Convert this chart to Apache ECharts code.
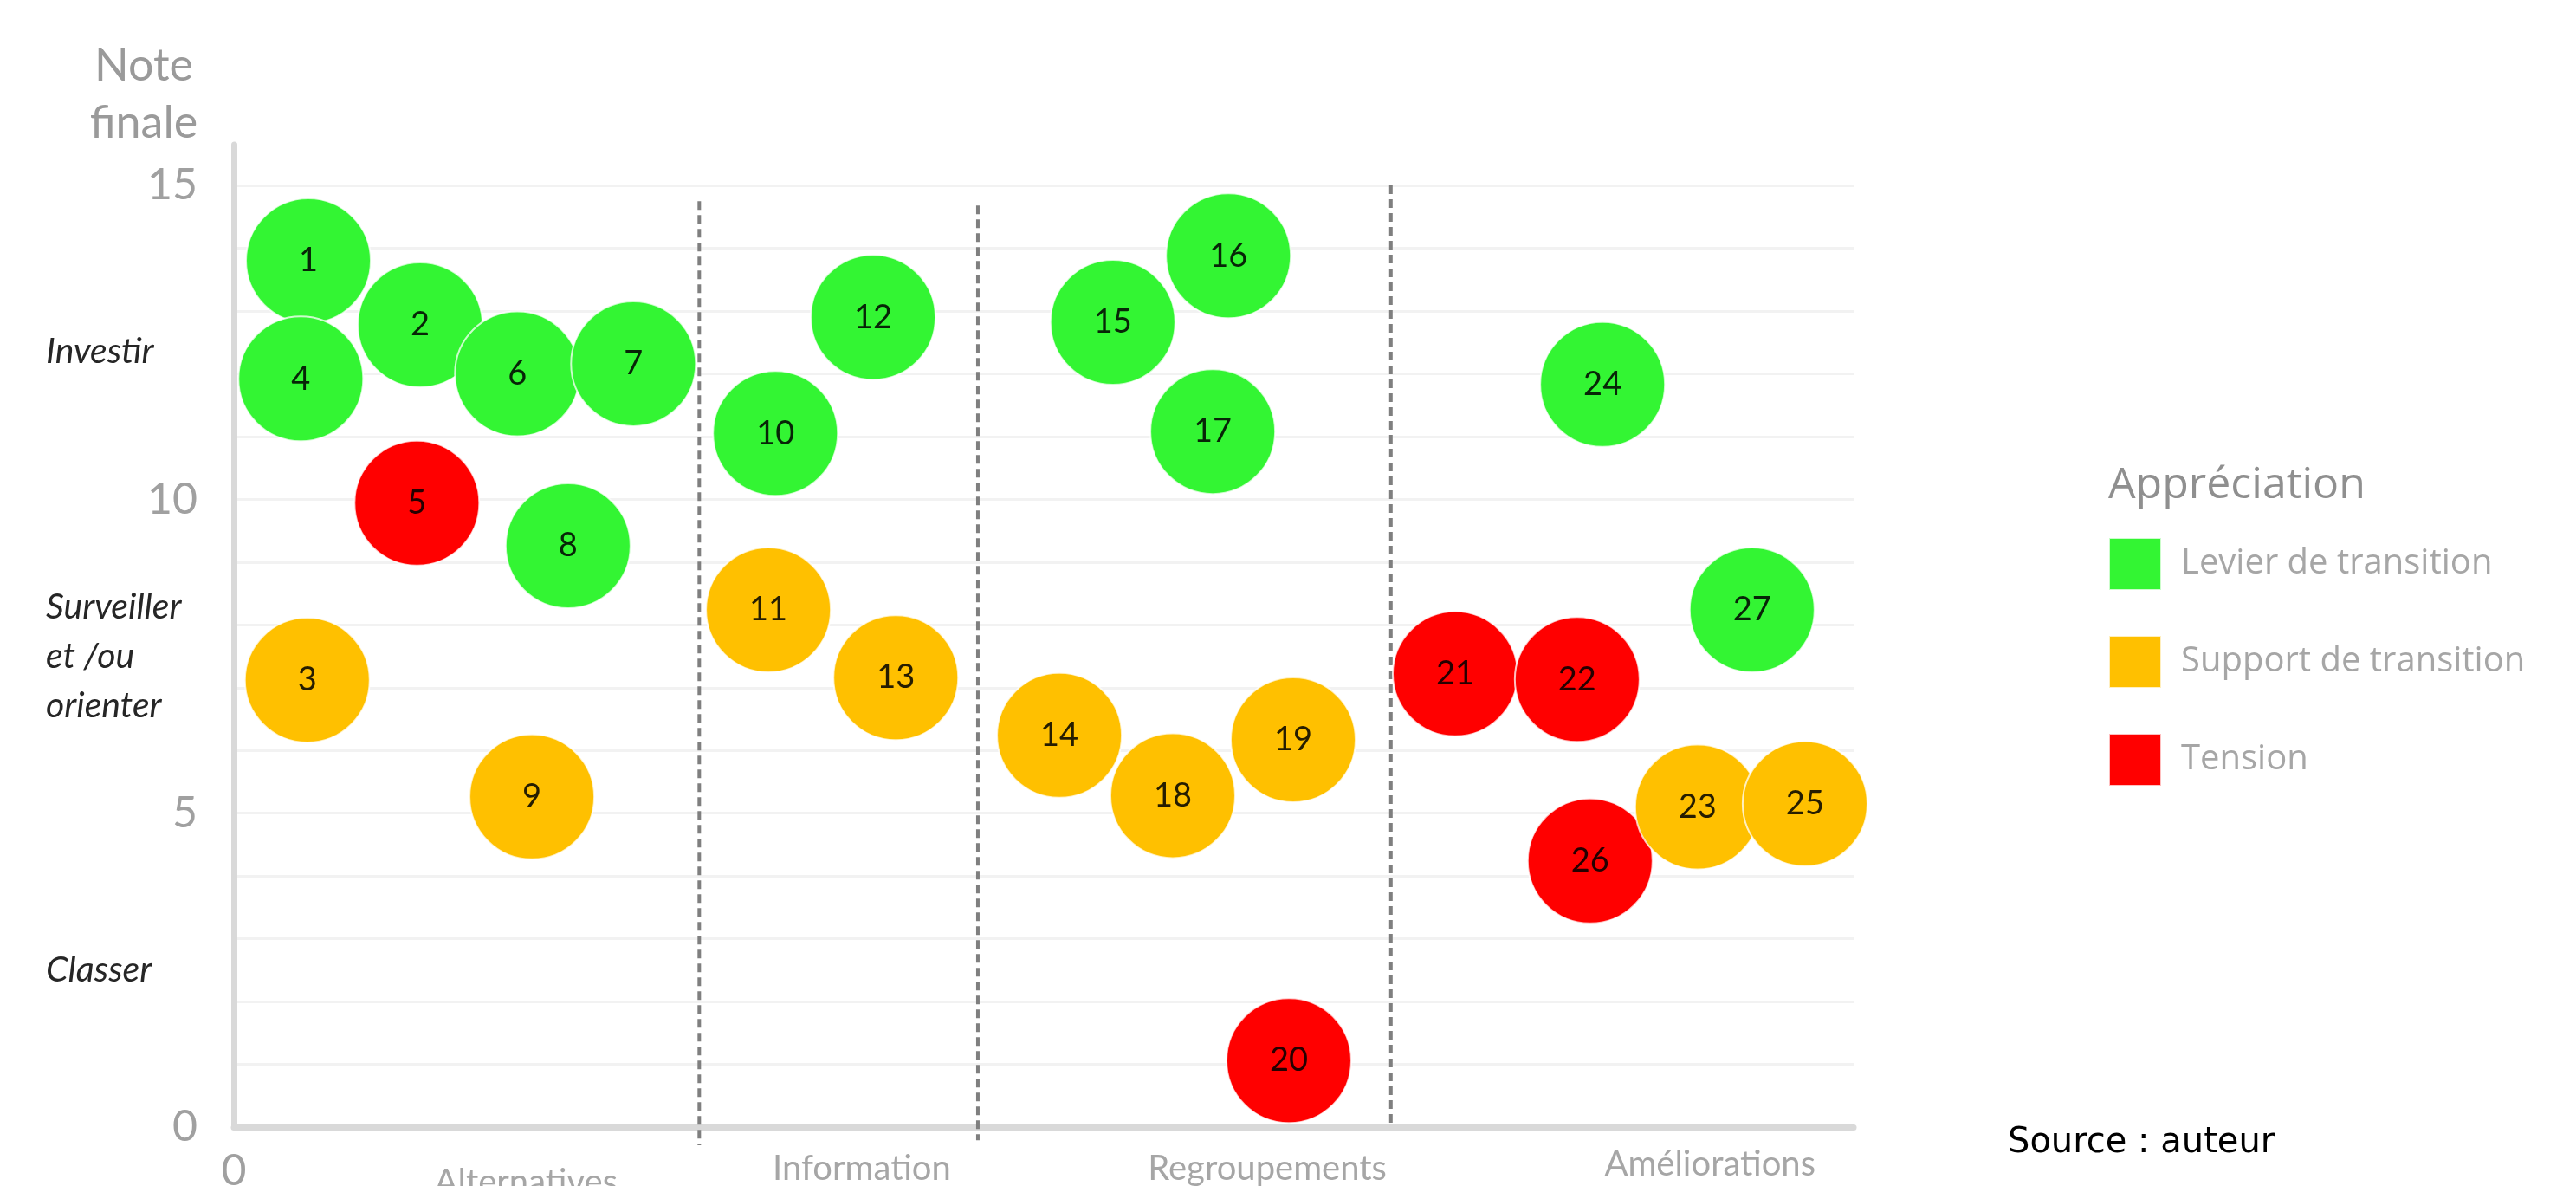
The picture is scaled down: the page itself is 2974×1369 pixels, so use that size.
<!DOCTYPE html>
<html><head><meta charset="utf-8">
<script src="https://cdn.jsdelivr.net/npm/echarts@6/dist/echarts.min.js"></script>
<style>html,body{margin:0;padding:0;background:#fff}#c{width:2974px;height:1369px}</style>
</head><body><div id="c"></div>
<script>
// ---- data ----
const ids = [1,2,3,4,5,6,7,8,9,10,11,12,13,14,15,16,17,18,19,20,21,22,23,24,25,26,27];
const xPos = [1.38,3.45,1.36,1.24,3.39,5.25,7.40,6.19,5.52,10.03,9.90,11.84,12.26,15.29,16.28,18.42,18.13,17.39,19.62,19.54,22.62,24.88,27.11,25.35,29.10,25.12,28.12];
const notes = [13.80,12.78,7.12,11.92,9.94,12.00,12.16,9.26,5.26,11.05,8.24,12.90,7.16,6.24,12.82,13.88,11.08,5.28,6.17,1.06,7.22,7.13,5.10,11.83,5.15,4.24,8.24];
const appreciation = ['L','L','S','L','T','L','L','L','S','L','S','L','S','S','L','L','L','S','S','T','T','T','S','L','S','T','L'];
const appreciationCodes = ['L','S','T'];
const appreciationNames = ['Levier de transition','Support de transition','Tension'];
const xCategoryNames = ['Alternatives','Information','Regroupements','Améliorations'];
const xCategoryPos = [5.41,11.63,19.14,27.34];
const dividerX = [8.62,13.78,21.43];
const dividerTop = [14.75,14.68,15.0];
const dividerBottom = [-0.29,-0.21,0];
const yTicks = [0,5,10,15];
const yZoneNames = ['Classer','Surveiller\net /ou\norienter','Investir'];
const yZonePos = [2.5,7.5,12.35];

// ---- styles ----
const colors = ['#33F533','#FFC000','#FF0000'];
const drawOrder = [0,2,1];
const richKeys = ['alt','c','c','amel'];

const bubbleSeries = drawOrder.map(ci => ({
  type:'scatter', name: appreciationNames[ci],
  symbol:'circle', symbolSize:144, z:3,
  itemStyle:{color:colors[ci], borderColor:'rgba(255,255,255,0.75)', borderWidth:2, opacity:1},
  label:{show:true, position:'inside', formatter:p => String(p.value[2]),
         fontFamily:'Lato', fontSize:38, color:'rgba(0,0,0,0.85)'},
  emphasis:{disabled:true}, silent:true,
  data: ids.map((id,i)=>[xPos[i], notes[i], id, appreciation[i]])
           .filter(d => d[3] === appreciationCodes[ci])
           .map(d => [d[0], d[1], d[2]])
}));

const dividerSeries = dividerX.map((x,i)=>({
  type:'line', name:'div'+i, symbol:'none', clip:false, silent:true, z:2,
  lineStyle:{type:[10,6], color:'#7f7f7f', width:4},
  data:[[x, dividerTop[i]], [x, dividerBottom[i]]]
}));

const chart = echarts.init(document.getElementById('c'), null, {renderer:'canvas'});
chart.setOption({
  backgroundColor:'#ffffff',
  animation:false,
  title:[
    {text:'Note\nfinale', left:166, top:43, textAlign:'center', padding:0,
     textStyle:{fontFamily:'Lato', fontSize:52, fontWeight:'normal', color:'#9a9a9a', lineHeight:66}},
    {text:'Appréciation', left:2434, top:536, padding:0,
     textStyle:{fontFamily:'Open Sans', fontSize:50, fontWeight:'normal', color:'#8f8f8f'}},
    {text:'Source : auteur', left:2318, top:1300, padding:0,
     textStyle:{fontFamily:'DejaVu Sans', fontSize:40, fontWeight:'normal', color:'#000000'}}
  ],
  legend:{
    data:appreciationNames, orient:'vertical', left:2434, top:620, padding:0,
    itemWidth:60, itemHeight:60, itemGap:51, icon:'rect', selectedMode:false,
    textStyle:{fontFamily:'Open Sans', fontSize:40, color:'#a6a6a6', padding:[0,0,0,18]}
  },
  grid:{left:270, right:834, top:167, bottom:68, containLabel:false, outerBoundsMode:'none'},
  xAxis:{
    type:'value', min:0, max:30,
    axisLine:{show:true, onZero:false, lineStyle:{color:'#d9d9d9', width:7}},
    axisTick:{show:false}, splitLine:{show:false},
    axisLabel:{
      customValues:[0].concat(xCategoryPos), margin:24,
      formatter:v => {
        if (v === 0) return '{z|0}';
        const k = xCategoryPos.indexOf(v);
        return '{' + richKeys[k] + '|' + xCategoryNames[k] + '}';
      },
      rich:{
        z:{fontFamily:'Lato', fontSize:50, lineHeight:54, color:'#a0a0a0'},
        c:{fontFamily:'Lato', fontSize:40, lineHeight:48, color:'#a6a6a6'},
        alt:{fontFamily:'Lato', fontSize:40, lineHeight:80, color:'#a6a6a6'},
        amel:{fontFamily:'Lato', fontSize:40, lineHeight:38, color:'#a6a6a6'}
      }
    }
  },
  yAxis:[
    {type:'value', min:0, max:15.65, interval:1, position:'left', offset:22,
     axisLine:{show:true, lineStyle:{color:'#d9d9d9', width:7}},
     axisTick:{show:false},
     axisLabel:{customValues:yTicks, formatter:v => String(v), margin:20,
                fontFamily:'Lato', fontSize:50, color:'#a0a0a0'},
     splitLine:{show:true, showMaxLine:false, lineStyle:{color:'#f2f2f2', width:3}}},
    {type:'value', min:0, max:15.65, position:'left', offset:22,
     axisLine:{show:false}, axisTick:{show:false}, splitLine:{show:false},
     axisLabel:{customValues:yZonePos, align:'left', margin:195,
                formatter:v => yZoneNames[yZonePos.indexOf(v)],
                fontFamily:'Lato', fontStyle:'italic', fontSize:41, color:'#262626', lineHeight:57}}
  ],
  series: dividerSeries.concat(bubbleSeries)
});
</script>
</body></html>
